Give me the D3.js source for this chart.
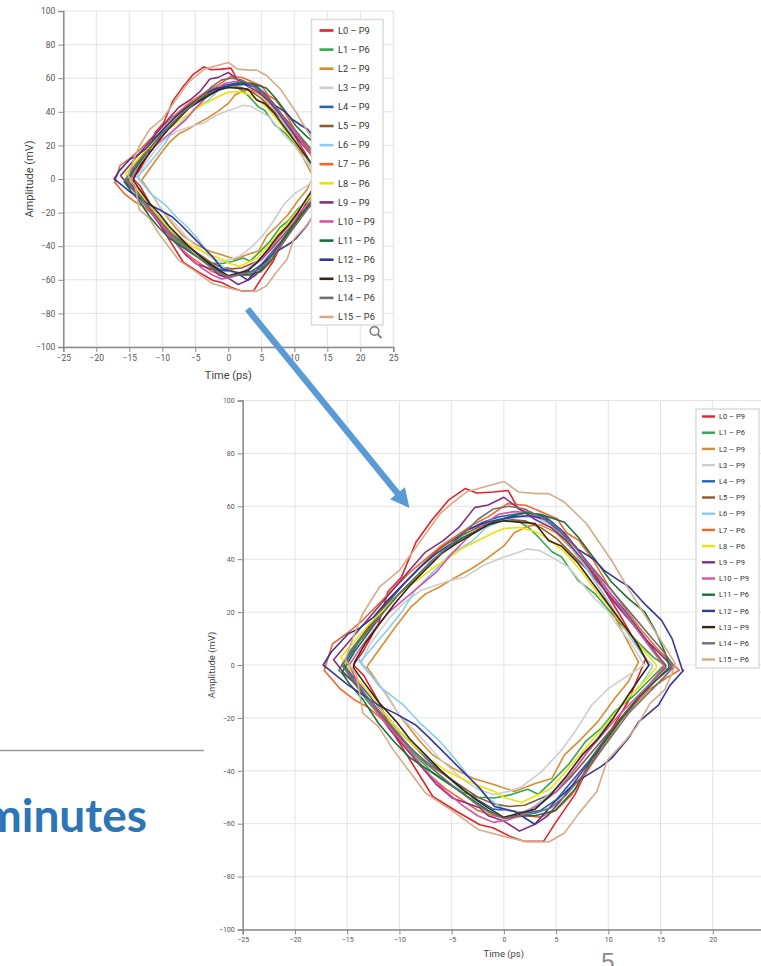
<!DOCTYPE html>
<html>
<head>
<meta charset="utf-8">
<script src="https://cdn.jsdelivr.net/npm/d3@7"></script>
<style>
  html, body { margin: 0; padding: 0; background: #fff; }
  svg { display: block; }
  .axis text { font-family: Roboto, "Liberation Sans", sans-serif; fill: #555; }
  .axis path, .axis line { stroke: #8a8a8a; }
</style>
</head>
<body>
<svg id="slide" width="761" height="966"></svg>
<script>
// Eye diagram traces per lane: closed loops of [time (ps), amplitude (mV)],
// starting at the left crossing, over the upper eye edge, then back along the lower edge.
const laneNames = ["L0 – P9","L1 – P6","L2 – P9","L3 – P9","L4 – P9","L5 – P9","L6 – P9","L7 – P6",
                   "L8 – P6","L9 – P9","L10 – P9","L11 – P6","L12 – P6","L13 – P9","L14 – P6","L15 – P6"];

const laneL0 = [[-14.4,0],[-13.5,5],[-12,15.7],[-11.1,27.7],[-9.8,33.3],[-8.4,46.5],[-6.9,54.7],[-5.3,62.3],[-3.7,66.7],[-2.6,65],[-1,65.4],[0.4,66],[1.4,59],[2.8,57],[4.3,55],[5.8,50],[7.2,43],[8.6,35],[10,26],[11.4,17],[12.7,8],[13.8,1],
  [13.6,2.5],[12.8,-5],[11.9,-13.8],[10.5,-23],[9,-33],[7.6,-42.5],[6.8,-49],[5,-59.3],[3.8,-66.7],[2,-66.7],[0.6,-64.8],[-1,-61.6],[-2.3,-60.4],[-4.5,-55.4],[-6.8,-49.7],[-8.7,-37.7],[-10.7,-25],[-12,-13.8],[-13.4,-4]];
const laneL1 = [[-15.8,-2],[-14.6,6],[-13,14],[-11.5,22],[-10,27],[-8.5,33],[-7,39],[-5.5,44],[-4,48],[-2.5,51],[-1,54],[0.5,55],[1.5,54],[2.3,52.2],[3.3,48.4],[4.6,42.8],[5.5,40.9],[7.1,32],[8.7,27],[10,21],[11.5,14],[13,8],[14.3,3],[15.4,0],
  [15.1,-1],[14.1,-5],[12.5,-11.4],[10.6,-17.6],[9.3,-24],[7.8,-29],[6.2,-37.6],[4.6,-44],[3.3,-48.9],[2.3,-47],[0.7,-49],[-0.9,-50.3],[-2.5,-50],[-4,-48],[-5.5,-44],[-7,-40],[-8.5,-34],[-10,-27],[-11.5,-21],[-13,-14],[-14.5,-6]];
const laneL2 = [[-13,0],[-12,5.5],[-10.4,14.3],[-8.9,21.9],[-7.5,26.9],[-6.2,29.4],[-4.6,33.2],[-3.1,36.4],[-1.7,40],[0,45],[1,50],[2.3,52.5],[3.5,53],[5,50],[6.5,44],[8,36],[9.5,27],[11.3,13],[12.9,1],
  [12.9,1.2],[11.9,-6.4],[10.6,-12.7],[9,-21.4],[7.4,-28],[5.8,-34],[4.6,-42.9],[3,-44.8],[1,-47.8],[-0.9,-45.3],[-2.9,-42.9],[-4.9,-39],[-6.8,-34],[-8,-29],[-10,-19],[-11.2,-11.4],[-13.1,-0.8]];
const laneL3 = [[-13.7,0.5],[-12.8,8],[-10.9,18],[-9.6,23.4],[-7.9,28.3],[-5.1,32],[-3.75,33.2],[-2,37.6],[0,40.8],[1,42],[2.2,43.9],[3.4,43.3],[4.6,40.8],[6.2,37],[7.5,30.7],[8.7,25],[9.9,20.6],[11,14.3],[12,9.3],[13,3],[13.4,0],
  [12.9,-1.4],[11.9,-3.9],[10,-8.9],[8.4,-15.2],[6.8,-25.3],[5.4,-32.8],[3.6,-40.3],[1.7,-46],[0.4,-47.8],[-1,-49],[-2.5,-47],[-4,-43],[-6,-36],[-8,-27],[-10,-19],[-12,-7],[-13.4,-1]];
const laneL4 = [[-15.3,0],[-14,8],[-12.5,16],[-11,24],[-9.5,31],[-8,37],[-6.5,43],[-5,47],[-3.5,51],[-2,54],[-0.5,56],[1,57],[2.5,57.5],[4,56],[5.5,51],[7,44],[8.5,36],[10,28],[11.5,21],[13,13],[14.3,6],[15.3,0],
  [15.3,-1],[14,-7],[12.5,-14],[11,-21],[9.5,-29],[8,-37],[6.5,-44],[5,-51],[3.5,-55],[2,-56],[0.5,-55],[-1,-54.5],[-2.5,-51],[-4,-47],[-5.5,-42],[-7,-37],[-8.5,-31],[-10,-25],[-11.5,-18],[-13,-11],[-14.3,-5]];
const laneL5 = [[-15.5,0],[-14.3,7],[-13,14],[-11.5,22],[-10,29],[-8.5,35],[-7,41],[-5.5,46],[-4,49],[-2.5,52],[-1,54],[0.5,55],[2,54.5],[3.5,52],[5,48],[6.5,42],[8,36],[9.5,29],[11,22],[12.5,15],[14,7],[15.5,0],
  [15.5,-1],[14,-7],[12.5,-14],[11,-21],[9.5,-28],[8,-35],[6.5,-42],[5,-48],[3.5,-50.5],[2,-53],[0.5,-53.5],[-1,-52.5],[-2.5,-50],[-4,-46],[-5.5,-42],[-7,-38],[-8.5,-33],[-10,-27],[-11.5,-20],[-13,-13],[-14.3,-6]];
const laneL6 = [[-13.8,1],[-12.5,7],[-11,14],[-9.6,21],[-8.5,28.3],[-6.8,35],[-5.1,42],[-3.1,46.6],[-1.7,52],[0,55],[1.5,56],[3,56],[4.5,53],[6,47],[7.5,39],[9,30],[10.5,21],[12,11],[13.2,4],[14.2,0],
  [14.2,-1],[13,-8],[11.5,-14],[10,-22],[8.5,-30],[7,-38],[5.5,-45],[4,-50],[2.9,-53.5],[1.7,-55.9],[0,-54.7],[-1.7,-49.7],[-3.4,-42.1],[-4.6,-35.8],[-6.1,-29],[-8,-22],[-9.6,-15.2],[-11.9,-8.2],[-13.9,2.4]];
const laneL7 = [[-17.2,-2],[-16.4,8],[-15,12],[-13.5,17],[-12,23],[-10.5,29],[-9,35],[-7.5,40],[-6,45],[-4.5,49],[-3,53],[-1.5,56],[0.35,61],[2.1,60.4],[3.5,58],[5.1,55.3],[6,50],[7.2,47],[8.5,40],[10,30],[11.5,22],[13,14],[14.5,7],[16,1],[16.8,-2],
  [15.5,-5],[14,-9],[12.5,-15],[11,-22],[9.5,-31],[8,-40],[6.5,-49],[5,-55],[3.5,-57.5],[2,-57],[0.5,-58],[-1,-57],[-2.5,-55],[-4,-51],[-5.5,-47],[-7,-42],[-8.5,-35],[-10,-28],[-11.5,-21],[-13,-16],[-14.3,-13.2],[-15.7,-8.9]];
const laneL8 = [[-15.6,3],[-14.5,8],[-13,15],[-11.5,21],[-10,27],[-8.5,31.4],[-7,36],[-5.5,40],[-4,44],[-2.5,47],[-1,50],[0,51.6],[1.5,52],[3,50.5],[4.5,47],[6,42],[7.5,35],[9,27],[10.5,20],[12,12],[13.5,5],[14.6,0],
  [14.6,-1],[13.5,-6],[12,-12],[10.5,-19],[9,-26],[7.5,-33],[6,-40],[4.4,-47],[3,-49.5],[1.7,-52],[0,-50],[-0.9,-47.8],[-2.5,-45.5],[-4,-43],[-5.5,-40],[-7,-36],[-8.5,-31],[-10,-25],[-11.5,-18],[-13,-10],[-14.5,-3]];
const laneL9 = [[-16.3,2],[-15,8],[-13.5,15],[-12,22],[-10.5,29],[-9,36],[-7.5,42.7],[-5.8,47],[-4.3,52],[-2.8,59.5],[-1.5,60.5],[0,63.4],[1.5,59],[3,55],[4.5,52],[6,47],[7.5,40],[9,32],[10.5,24],[12,17],[13.5,10],[15,4],[16,0],
  [16,-1],[14.5,-6],[13,-12],[11.5,-19],[10,-27],[8.5,-35],[7,-43],[5.5,-51],[4.2,-57],[3.1,-60],[1.5,-62.8],[0,-59],[-1.5,-57],[-2.3,-54],[-4.9,-50.4],[-6.5,-45],[-8,-38],[-9.5,-31],[-11,-24],[-12.5,-15],[-14,-8],[-15.3,-3]];
const laneL10 = [[-14.8,0],[-13.8,6],[-12.5,13],[-11,20],[-9.5,25],[-8,30],[-6.5,35],[-5,42],[-3.5,48],[-2,53],[-0.5,57],[1,58],[2.5,57.5],[4,55],[5.5,50],[7,44],[8.5,36],[10,28],[11.5,20],[13,12],[14.3,5],[15.3,0],
  [15.3,-1],[14,-7],[12.5,-13],[11,-19],[9.5,-26],[8,-33],[6.5,-41],[5,-48],[3.5,-52.5],[2,-56],[0.5,-58.5],[-1,-59.5],[-2.5,-57],[-4,-53],[-5.5,-48],[-7,-42],[-8.5,-35],[-10,-28],[-11.5,-21],[-13,-13],[-14.2,-5]];
const laneL11 = [[-15.5,-3],[-14.3,5],[-13,12],[-11.5,20],[-10,27],[-8.5,33],[-7,39],[-5.5,44],[-4,48],[-2.5,51],[-1,54],[0.5,56],[2,57.5],[3.5,57],[5.8,54],[7.1,48.4],[8.7,40],[10.3,31.4],[11.9,25.2],[13.5,20],[14.5,13],[15.4,5],[15.8,0],
  [15.8,-1],[14.5,-6],[13,-12],[11.5,-19],[10,-27],[8.5,-35],[6.8,-47],[4.9,-55],[3,-57],[1.1,-57],[0,-58],[-1.5,-55],[-3,-51],[-4.5,-47],[-6,-43],[-7.5,-39],[-9,-35],[-10.5,-29],[-12,-22],[-13.5,-13],[-14.8,-7]];
const laneL12 = [[-17.3,0],[-16.5,5],[-14.9,11.8],[-13.9,13.7],[-12.5,18],[-11,25],[-9.5,31],[-8,37],[-6.5,42],[-5,46],[-3.5,51],[-2,53.5],[-0.5,55],[1,56],[2.5,56.5],[4,55],[5.5,50],[7,44],[8.6,40],[9.6,35.8],[11,32],[12,29.6],[13.5,23],[15.1,16.9],[16.1,10],[17.1,-2],
  [17.2,-2],[15.9,-7.7],[14.8,-15.2],[12.9,-21.5],[11.9,-27.8],[10.3,-35.3],[9.3,-38.4],[7,-44],[4.9,-51.6],[2.96,-60.2],[1.05,-55.4],[-0.9,-53.5],[-2.3,-46.6],[-3.9,-40.3],[-5.5,-34],[-7.4,-26.5],[-8.4,-22.8],[-10.4,-18.3],[-12,-15.2],[-14.9,-7.6],[-16.5,-2.5]];
const laneL13 = [[-14.3,1],[-13.3,8],[-12,15],[-10.5,23],[-9,30],[-7.5,36],[-6,42],[-4.5,46],[-3,49.5],[-1.5,53],[0,54.5],[1.5,54],[3,53.5],[4.3,47],[5.5,45],[7,39],[8.5,31],[10,23],[11.5,15],[12.8,8],[13.8,0.5],
  [13.9,0],[13,-5],[11.8,-12],[10.5,-20],[9,-28],[7.5,-34],[6,-42],[4.5,-49],[3,-54.5],[1.5,-56],[0,-57.6],[-1.5,-54],[-3,-50],[-4.5,-45],[-6,-40],[-7.5,-34],[-9,-28],[-10.3,-21.4],[-12,-14],[-13.5,-6],[-14.4,-1]];
const laneL14 = [[-15.5,0],[-14.5,6],[-13,13],[-11.5,20],[-10,27],[-8.5,33],[-7,39],[-5.5,44],[-4,49],[-2.5,55],[-1,59],[0.5,60],[2,59],[3.5,56],[5,52],[6.5,46],[8,39],[9.5,32],[11,25],[12.5,18],[14,11],[15.3,5],[16.2,0],
  [16.2,-1],[15,-6],[13.5,-12],[12,-18],[10.5,-26],[9,-34],[7.5,-42],[6,-49],[4.5,-54],[3,-56],[1.5,-57],[0,-58],[-1.5,-55.5],[-3,-51.5],[-4.5,-47],[-6,-42],[-7.5,-37],[-9,-31],[-10.5,-24],[-12,-17],[-13.5,-10],[-14.8,-4]];
const laneL15 = [[-15.2,2],[-14.4,10.7],[-13.5,19.5],[-11.9,29.5],[-10,35.8],[-8.5,44],[-6.1,57.2],[-5,61],[-3.6,65.4],[-1.4,67.9],[0,69.4],[1.4,65.4],[3.1,64.8],[4.3,64.8],[5.8,61.6],[7.9,53.5],[10.3,39.6],[12,28.3],[14,15.7],[15.4,6.9],[16.4,0.6],
  [16.3,-1],[16.1,-3.1],[15.4,-9.4],[14,-14.5],[12.7,-23.3],[11.7,-28.3],[9.9,-36],[8.9,-47.8],[7.2,-56],[5.8,-63.5],[4.3,-66.9],[2.1,-66.7],[0,-64.8],[-2.4,-62.3],[-5.1,-54.7],[-7.5,-48.4],[-10.6,-32],[-12,-23.3],[-13.5,-18.2],[-14.1,-3.8]];

const laneTraces = [laneL0, laneL1, laneL2, laneL3, laneL4, laneL5, laneL6, laneL7,
                    laneL8, laneL9, laneL10, laneL11, laneL12, laneL13, laneL14, laneL15];

const laneColors = ["#e52129","#2eaa4c","#d98c2c","#cdcdcd","#1f67b3","#8d5a2d","#86ceed","#f4652b",
                    "#f1e107","#872f7f","#dc51a7","#15713b","#363898","#3c2416","#707070","#d5ab88"];

const timeTicks = [-25,-20,-15,-10,-5,0,5,10,15,20,25];
const ampTicks = [-100,-80,-60,-40,-20,0,20,40,60,80,100];

const svg = d3.select("#slide");
svg.append("rect").attr("width", 761).attr("height", 966).attr("fill", "#fff");

function drawEyeChart(cfg) {
  const g = svg.append("g");
  const x = d3.scaleLinear().domain([-25, 25]).range([cfg.left, cfg.right]);
  const y = d3.scaleLinear().domain([-100, 100]).range([cfg.bottom, cfg.top]);

  // grid
  g.append("g").selectAll("line").data(timeTicks).join("line")
    .attr("x1", d => x(d)).attr("x2", d => x(d))
    .attr("y1", cfg.top).attr("y2", cfg.bottom)
    .attr("stroke", "#e3e3e3").attr("stroke-width", 1);
  g.append("g").selectAll("line").data(ampTicks).join("line")
    .attr("x1", cfg.left).attr("x2", cfg.right)
    .attr("y1", d => y(d)).attr("y2", d => y(d))
    .attr("stroke", "#e3e3e3").attr("stroke-width", 1);

  // traces
  const line = d3.line().x(d => x(d[0])).y(d => y(d[1])).curve(d3.curveLinearClosed);
  g.append("g").selectAll("path").data(laneTraces).join("path")
    .attr("d", line)
    .attr("fill", "none")
    .attr("stroke", (d, i) => laneColors[i])
    .attr("stroke-width", cfg.lineWidth)
    .attr("stroke-linejoin", "round");

  // axes
  const xAxis = d3.axisBottom(x).tickValues(timeTicks).tickSize(cfg.tick).tickPadding(3);
  const yAxis = d3.axisLeft(y).tickValues(ampTicks).tickSize(cfg.tick).tickPadding(3);
  g.append("g").attr("class", "axis").attr("transform", `translate(0,${cfg.bottom})`).call(xAxis)
    .call(a => a.selectAll("text").style("font-size", cfg.tickFont + "px"));
  g.append("g").attr("class", "axis").attr("transform", `translate(${cfg.left},0)`).call(yAxis)
    .call(a => a.selectAll("text").style("font-size", cfg.tickFont + "px"));
  g.selectAll(".axis .domain").attr("stroke-width", 1.5);

  g.append("text").attr("x", x(0)).attr("y", cfg.xTitleY)
    .attr("text-anchor", "middle").attr("font-family", "Roboto, sans-serif")
    .attr("font-size", cfg.titleFont).attr("fill", "#444").text("Time (ps)");
  g.append("text").attr("transform", `translate(${cfg.yTitleX},${y(0)}) rotate(-90)`)
    .attr("text-anchor", "middle").attr("font-family", "Roboto, sans-serif")
    .attr("font-size", cfg.titleFont).attr("fill", "#444").text("Amplitude (mV)");

  // legend
  const lg = g.append("g");
  lg.append("rect").attr("x", cfg.legX).attr("y", cfg.legY)
    .attr("width", cfg.legW).attr("height", cfg.legH)
    .attr("fill", "#fff").attr("stroke", "#dcdcdc").attr("stroke-width", 1.5);
  const items = lg.selectAll("g.item").data(laneNames).join("g").attr("class", "item")
    .attr("transform", (d, i) => `translate(${cfg.legX},${cfg.legFirst + i * cfg.legStep})`);
  items.append("line").attr("x1", cfg.swX0).attr("x2", cfg.swX1)
    .attr("stroke", (d, i) => laneColors[i]).attr("stroke-width", cfg.swW);
  items.append("text").attr("x", cfg.txtX).attr("dy", "0.35em")
    .attr("font-family", "Roboto, sans-serif").attr("font-size", cfg.legFont)
    .attr("fill", "#333").text(d => d);
  return g;
}

// overview chart
const small = drawEyeChart({
  left: 63.3, right: 393.3, top: 11, bottom: 347,
  lineWidth: 1.6, tick: 5, tickFont: 8.5, titleFont: 11,
  xTitleY: 379, yTitleX: 33,
  legX: 311.5, legY: 19.5, legW: 71.5, legH: 305.5, legFirst: 30.5, legStep: 19.1,
  swX0: 8, swX1: 22, swW: 2.6, txtX: 26.5, legFont: 9.2
});
// zoom icon under the overview legend
small.append("circle").attr("cx", 374.5).attr("cy", 331).attr("r", 4.3)
  .attr("fill", "none").attr("stroke", "#777").attr("stroke-width", 1.5);
small.append("line").attr("x1", 377.6).attr("y1", 334.1).attr("x2", 381.5).attr("y2", 338)
  .attr("stroke", "#777").attr("stroke-width", 1.8);

// enlarged chart
drawEyeChart({
  left: 242.7, right: 765, top: 400.5, bottom: 929.5,
  lineWidth: 1.6, tick: 5, tickFont: 7, titleFont: 9.5,
  xTitleY: 957, yTitleX: 215,
  legX: 696, legY: 409, legW: 63, legH: 259, legFirst: 416.5, legStep: 16.2,
  swX0: 6, swX1: 19, swW: 2.4, txtX: 23, legFont: 7.5
});

// arrow pointing from the overview to the enlargement
const arrowStart = [247.5, 309], arrowTip = [409.5, 508];
const ang = Math.atan2(arrowTip[1] - arrowStart[1], arrowTip[0] - arrowStart[0]);
const headLen = 19, headHalf = 9.5, shaft = 3.2;
const ux = Math.cos(ang), uy = Math.sin(ang), px = -uy, py = ux;
const bx = arrowTip[0] - ux * headLen, by = arrowTip[1] - uy * headLen;
const arrowPts = [
  [arrowStart[0] + px * shaft, arrowStart[1] + py * shaft],
  [bx + px * shaft, by + py * shaft],
  [bx + px * headHalf, by + py * headHalf],
  arrowTip,
  [bx - px * headHalf, by - py * headHalf],
  [bx - px * shaft, by - py * shaft],
  [arrowStart[0] - px * shaft, arrowStart[1] - py * shaft]
];
svg.append("polygon").attr("points", arrowPts.map(p => p.join(",")).join(" "))
  .attr("fill", "#5b9bd5");

// slide decoration: divider, heading fragment and page number
svg.append("line").attr("x1", 0).attr("x2", 204).attr("y1", 750.5).attr("y2", 750.5)
  .attr("stroke", "#9a9a9a").attr("stroke-width", 1.6);
svg.append("text").attr("x", 147).attr("y", 832).attr("text-anchor", "end")
  .attr("font-family", "Lato, 'Open Sans', sans-serif").attr("font-weight", "bold")
  .attr("font-size", 46).attr("fill", "#2e75b6").text("minutes");
svg.append("text").attr("x", 608).attr("y", 970).attr("text-anchor", "middle")
  .attr("font-family", "'Liberation Sans', sans-serif").attr("font-size", 24)
  .attr("fill", "#8a8a8a").text("5");
</script>
</body>
</html>
